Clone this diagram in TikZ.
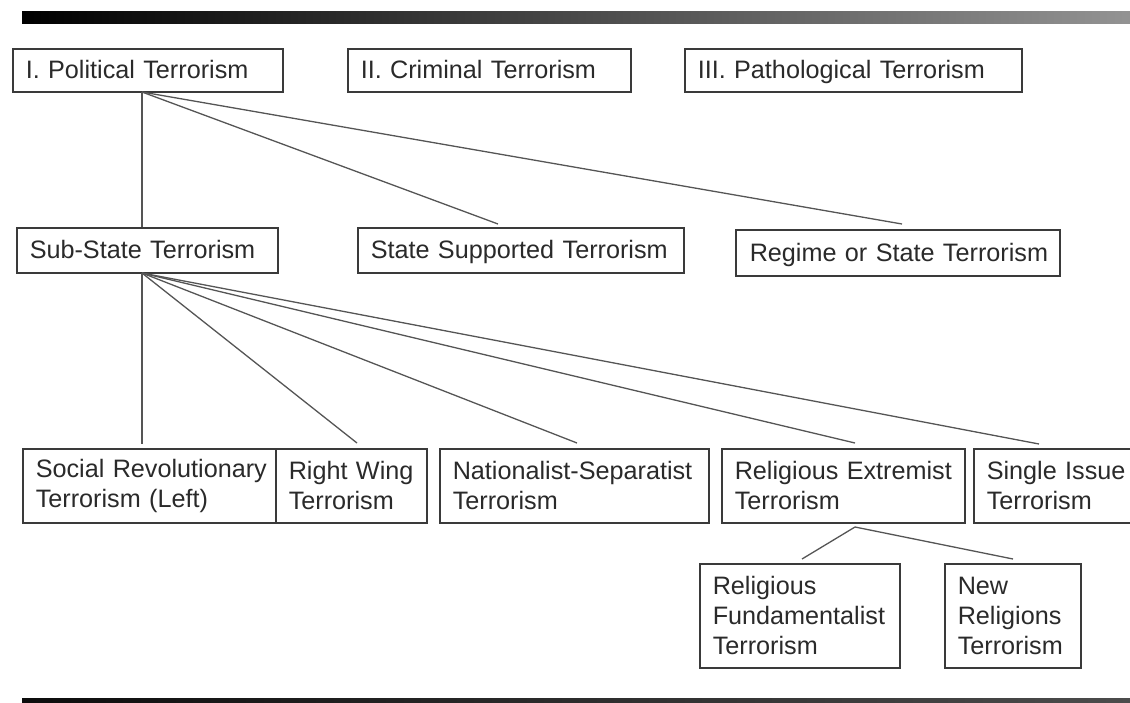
\documentclass[tikz,border=0pt]{standalone}
\usepackage{fontspec}
\setmainfont{Liberation Sans}
\newcommand\bxfont{\fontsize{25.2}{30}\selectfont}
\newcommand\tline[1]{\mbox{#1}}
\definecolor{boxline}{HTML}{3A3A3A}
\definecolor{conline}{HTML}{555555}
\definecolor{txt}{HTML}{2A2A2A}
\tikzset{
  tbox/.style={draw=boxline, line width=1.5pt, fill=white, anchor=north west,
    inner xsep=13pt, inner ysep=0pt, align=left, font=\bxfont, text=txt},
  onel/.style={text height=18pt, text depth=1pt},
  conn/.style={draw=conline, line width=1.3pt}
}
\begin{document}
\begin{tikzpicture}[x=1pt,y=-1pt]
\useasboundingbox (0,0) rectangle (1130,702);
\clip (0,0) rectangle (1130,702);
% bars
\shade[left color=black, right color=black!42] (22,11) rectangle (1140,23);
\shade[left color=black!95, right color=black!70] (22,698) rectangle (1140,703);

% level 1
\node[tbox, onel, text width=244pt, minimum height=43pt] (pol) at (12,48) {\tline{I. Political Terrorism}};
\node[tbox, onel, text width=257pt, minimum height=43pt] (crim) at (347,48) {\tline{II. Criminal Terrorism}};
\node[tbox, onel, text width=311pt, minimum height=43pt] (path) at (684,48) {\tline{III. Pathological Terrorism}};

% level 2
\node[tbox, onel, text width=235pt, minimum height=45pt] (sub) at (16,227) {\tline{Sub-State Terrorism}};
\node[tbox, onel, text width=300pt, minimum height=45pt] (ssup) at (357,227) {\tline{State Supported Terrorism}};
\node[tbox, onel, text width=296pt, minimum height=46pt, inner xsep=14pt] (reg) at (735,229) {\tline{Regime or State Terrorism}};

% level 3
\node[tbox, text width=227pt, minimum height=74pt] (soc) at (22,448) {\tline{Social Revolutionary}\\\tline{Terrorism (Left)}};
\node[tbox, text width=125pt, minimum height=74pt] (rw) at (275,448) {\tline{Right Wing}\\\tline{Terrorism}};
\node[tbox, text width=243pt, minimum height=74pt] (nat) at (439,448) {\tline{Nationalist-Separatist}\\\tline{Terrorism}};
\node[tbox, text width=217pt, minimum height=74pt] (rel) at (721,448) {\tline{Religious Extremist}\\\tline{Terrorism}};
\node[tbox, text width=161pt, minimum height=74pt] (sing) at (973,448) {\tline{Single Issue}\\\tline{Terrorism}};

% level 4
\node[tbox, text width=174pt, minimum height=104pt] (fund) at (699,563) {\tline{Religious}\\\tline{Fundamentalist}\\\tline{Terrorism}};
\node[tbox, text width=110pt, minimum height=104pt] (newr) at (944,563) {\tline{New}\\\tline{Religions}\\\tline{Terrorism}};

% connector ends
\coordinate (polB) at (142,92);
\coordinate (subT) at (142,227);
\coordinate (ssupT) at (498,224);
\coordinate (regT) at (902,224);
\coordinate (subB) at (142,273);
\coordinate (socT) at (142,444);
\coordinate (rwT) at (357,443);
\coordinate (natT) at (577,443);
\coordinate (relT) at (855,443);
\coordinate (singT) at (1039,444);
\coordinate (relB) at (855,527);
\coordinate (fundT) at (802,559);
\coordinate (newrT) at (1013,559);

\draw[conn] (polB) -- (subT);
\draw[conn] (polB) -- (ssupT);
\draw[conn] (polB) -- (regT);
\draw[conn] (subB) -- (socT);
\draw[conn] (subB) -- (rwT);
\draw[conn] (subB) -- (natT);
\draw[conn] (subB) -- (relT);
\draw[conn] (subB) -- (singT);
\draw[conn] (relB) -- (fundT);
\draw[conn] (relB) -- (newrT);
\end{tikzpicture}
\end{document}
